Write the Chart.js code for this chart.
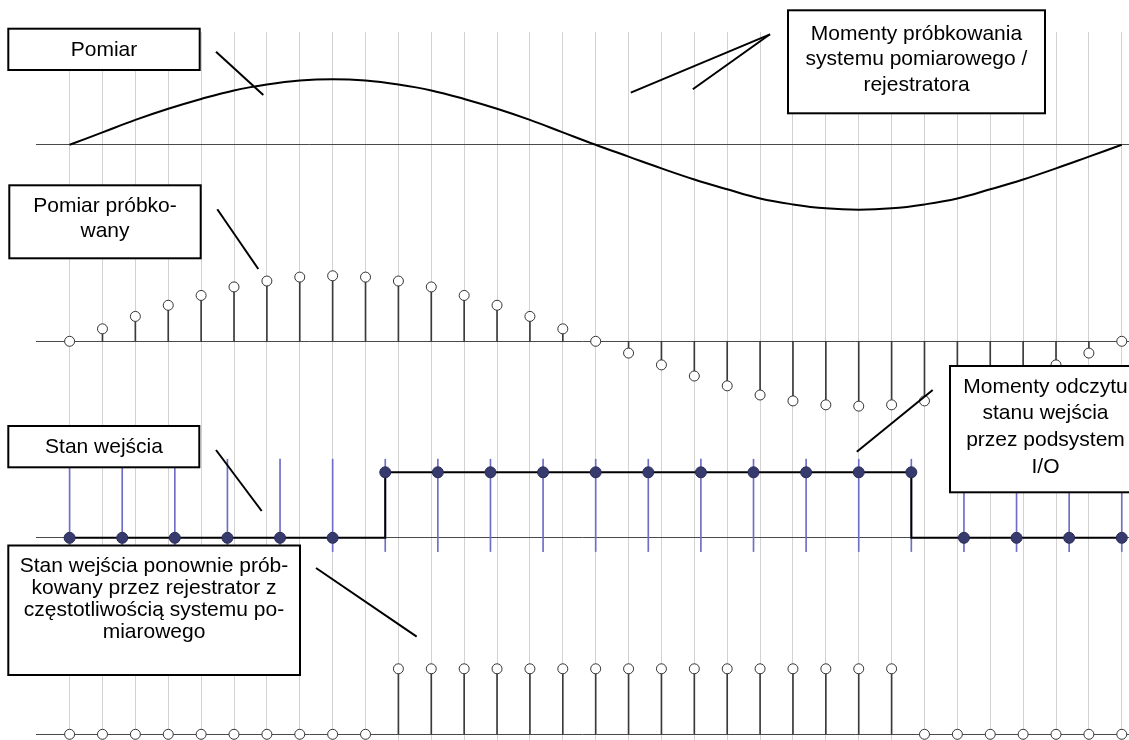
<!DOCTYPE html>
<html>
<head>
<meta charset="utf-8">
<script src="https://cdn.jsdelivr.net/npm/chart.js@4/dist/chart.umd.min.js"></script>
<style>
  html, body { margin: 0; padding: 0; background: #fff; }
  canvas { display: block; }
</style>
</head>
<body>
<canvas id="chart" width="1129" height="740"></canvas>
<script>
// Sampling instants of the measurement system / recorder (sample number)
const sampleIdx = [0, 1, 2, 3, 4, 5, 6, 7, 8, 9, 10, 11, 12, 13, 14, 15, 16,
                   17, 18, 19, 20, 21, 22, 23, 24, 25, 26, 27, 28, 29, 30, 31, 32];

// Measured quantity at each sampling instant (normalised amplitude)
const measured = [0, 0.19, 0.38, 0.55, 0.70, 0.83, 0.92, 0.98, 1.00, 0.98, 0.92,
                  0.83, 0.70, 0.55, 0.38, 0.19, 0, -0.18, -0.36, -0.53, -0.68,
                  -0.82, -0.91, -0.97, -0.99, -0.97, -0.91, -0.82, -0.68, -0.53,
                  -0.36, -0.18, 0];

// Read instants of the I/O subsystem on the same time axis
const ioTimes = [0, 1.6, 3.2, 4.8, 6.4, 8, 9.6, 11.2, 12.8, 14.4, 16,
                 17.6, 19.2, 20.8, 22.4, 24, 25.6, 27.2, 28.8, 30.4, 32];

// Input state as read by the I/O subsystem
const ioRead = [0, 0, 0, 0, 0, 0, 1, 1, 1, 1, 1, 1, 1, 1, 1, 1, 1, 0, 0, 0, 0];

// Input state: change instants and the level held until the next one
const inputTimes = [0, 9.6, 25.6, 32];
const inputLevels = [0, 1, 0, 0];

// Input state sampled again by the recorder at the measurement rate
const resampled = [0, 0, 0, 0, 0, 0, 0, 0, 0, 0, 1, 1, 1, 1, 1, 1, 1, 1,
                   1, 1, 1, 1, 1, 1, 1, 1, 0, 0, 0, 0, 0, 0, 0];

// Vertical placement of the four traces (zero line of each)
const lanes = { measured: 9, sampled: 6, input: 3, resampled: 0 };
const laneLines = [0, 3, 6, 9];
// Extent of the I/O read markers around the input lane
const ioMarkBelow = 0.21, ioMarkAbove = 1.2;

// Callout boxes with their leader lines (canvas pixels)
const notes = [
  { box: [8.3, 28.7, 191.4, 41.3], cx: 104, y0: 56, lh: 0,
    lines: ['Pomiar'], leaders: [[216, 51.7, 263.3, 95]] },
  { box: [9.3, 185.3, 191.4, 73], cx: 105, y0: 212, lh: 25,
    lines: ['Pomiar próbko-', 'wany'], leaders: [[217.3, 209.3, 258.3, 269]] },
  { box: [788, 10.3, 257, 103], cx: 916.5, y0: 39.5, lh: 25.5,
    lines: ['Momenty próbkowania', 'systemu pomiarowego /', 'rejestratora'],
    leaders: [[770, 34.3, 630.8, 92.7], [770, 34.3, 692.8, 89.3]] },
  { box: [8.3, 426, 191, 41.3], cx: 104, y0: 452.7, lh: 0,
    lines: ['Stan wejścia'], leaders: [[216, 450, 261.7, 511]] },
  { box: [950, 366, 192, 126.3], cx: 1045.5, y0: 392.7, lh: 26.7,
    lines: ['Momenty odczytu', 'stanu wejścia', 'przez podsystem', 'I/O'],
    leaders: [[932.7, 390, 856.8, 451.7]] },
  { box: [8.3, 545.5, 291.7, 129.5], cx: 154, y0: 572.3, lh: 22,
    lines: ['Stan wejścia ponownie prób-', 'kowany przez rejestrator z',
            'częstotliwością systemu po-', 'miarowego'],
    leaders: [[316, 568, 416.7, 636.7]] }
];

const calloutPlugin = {
  id: 'callouts',
  afterDraw(chart) {
    const ctx = chart.ctx;
    ctx.save();
    ctx.lineWidth = 2;
    ctx.strokeStyle = '#000';
    ctx.lineCap = 'butt';
    for (const n of notes) {
      for (const l of n.leaders) {
        ctx.beginPath();
        ctx.moveTo(l[0], l[1]);
        ctx.lineTo(l[2], l[3]);
        ctx.stroke();
      }
      const [x, y, w, h] = n.box;
      ctx.fillStyle = '#fff';
      ctx.fillRect(x, y, w, h);
      ctx.strokeRect(x, y, w, h);
      ctx.fillStyle = '#000';
      ctx.font = '21px "Liberation Sans", Arial, sans-serif';
      ctx.textAlign = 'center';
      ctx.textBaseline = 'alphabetic';
      n.lines.forEach((t, k) => ctx.fillText(t, n.cx, n.y0 + k * n.lh));
    }
    ctx.restore();
  }
};

const pts = (xs, ys, off) => xs.map((x, k) => ({ x, y: off + ys[k] }));

const datasets = [
  // continuous measured signal
  { type: 'line', data: pts(sampleIdx, measured, lanes.measured),
    borderColor: '#000', borderWidth: 2, pointRadius: 0, tension: 0.4,
    fill: false, order: 1 },
  // sampled measurement: markers
  { type: 'line', data: pts(sampleIdx, measured, lanes.sampled), showLine: false,
    pointRadius: 5, pointBackgroundColor: '#fff', pointBorderColor: '#333',
    pointBorderWidth: 1, clip: false, order: 0 },
  // sampled measurement: stems
  { type: 'bar', data: sampleIdx.map((x, k) => ({ x, y: [lanes.sampled, lanes.sampled + measured[k]] })),
    backgroundColor: '#3a3a3a', borderWidth: 0, barThickness: 1, grouped: false, order: 3 },
  // I/O read instants
  { type: 'bar', data: ioTimes.map(x => ({ x, y: [lanes.input - ioMarkBelow, lanes.input + ioMarkAbove] })),
    backgroundColor: '#6e6ec6', borderWidth: 0, barThickness: 1, grouped: false, order: 4 },
  // input state
  { type: 'line', data: pts(inputTimes, inputLevels, lanes.input), stepped: 'before',
    borderColor: '#000', borderWidth: 2, pointRadius: 0, fill: false, order: 2 },
  // values read by the I/O subsystem
  { type: 'line', data: pts(ioTimes, ioRead, lanes.input), showLine: false,
    pointRadius: 5.5, pointBackgroundColor: '#373a6c', pointBorderColor: '#2a2c58',
    pointBorderWidth: 1, clip: false, order: 0 },
  // re-sampled input state: stems
  { type: 'bar', data: sampleIdx.map((x, k) => ({ x, y: [lanes.resampled, lanes.resampled + resampled[k]] })),
    backgroundColor: '#3a3a3a', borderWidth: 0, barThickness: 1, grouped: false, order: 3 },
  // re-sampled input state: markers
  { type: 'line', data: pts(sampleIdx, resampled, lanes.resampled), showLine: false,
    pointRadius: 5, pointBackgroundColor: '#fff', pointBorderColor: '#333',
    pointBorderWidth: 1, clip: false, order: 0 }
];

new Chart(document.getElementById('chart'), {
  type: 'line',
  data: { datasets },
  options: {
    responsive: false,
    animation: false,
    devicePixelRatio: 1,
    layout: { autoPadding: false, padding: { left: 36, top: 32, right: 0, bottom: 0 } },
    plugins: { legend: { display: false }, tooltip: { enabled: false } },
    events: [],
    scales: {
      x: {
        type: 'linear', min: -1.022, max: 32.22, offset: false,
        afterBuildTicks: s => { s.ticks = sampleIdx.map(v => ({ value: v })); },
        ticks: { display: false },
        border: { display: false },
        grid: { color: '#d2d2d2', lineWidth: 1, drawTicks: false, offset: false }
      },
      y: {
        type: 'linear', min: -0.087, max: 10.722, beginAtZero: false,
        afterBuildTicks: s => { s.ticks = laneLines.map(v => ({ value: v })); },
        ticks: { display: false },
        border: { display: false },
        grid: { color: '#4a4a4a', lineWidth: 1, drawTicks: false }
      }
    }
  },
  plugins: [calloutPlugin]
});
</script>
</body>
</html>
